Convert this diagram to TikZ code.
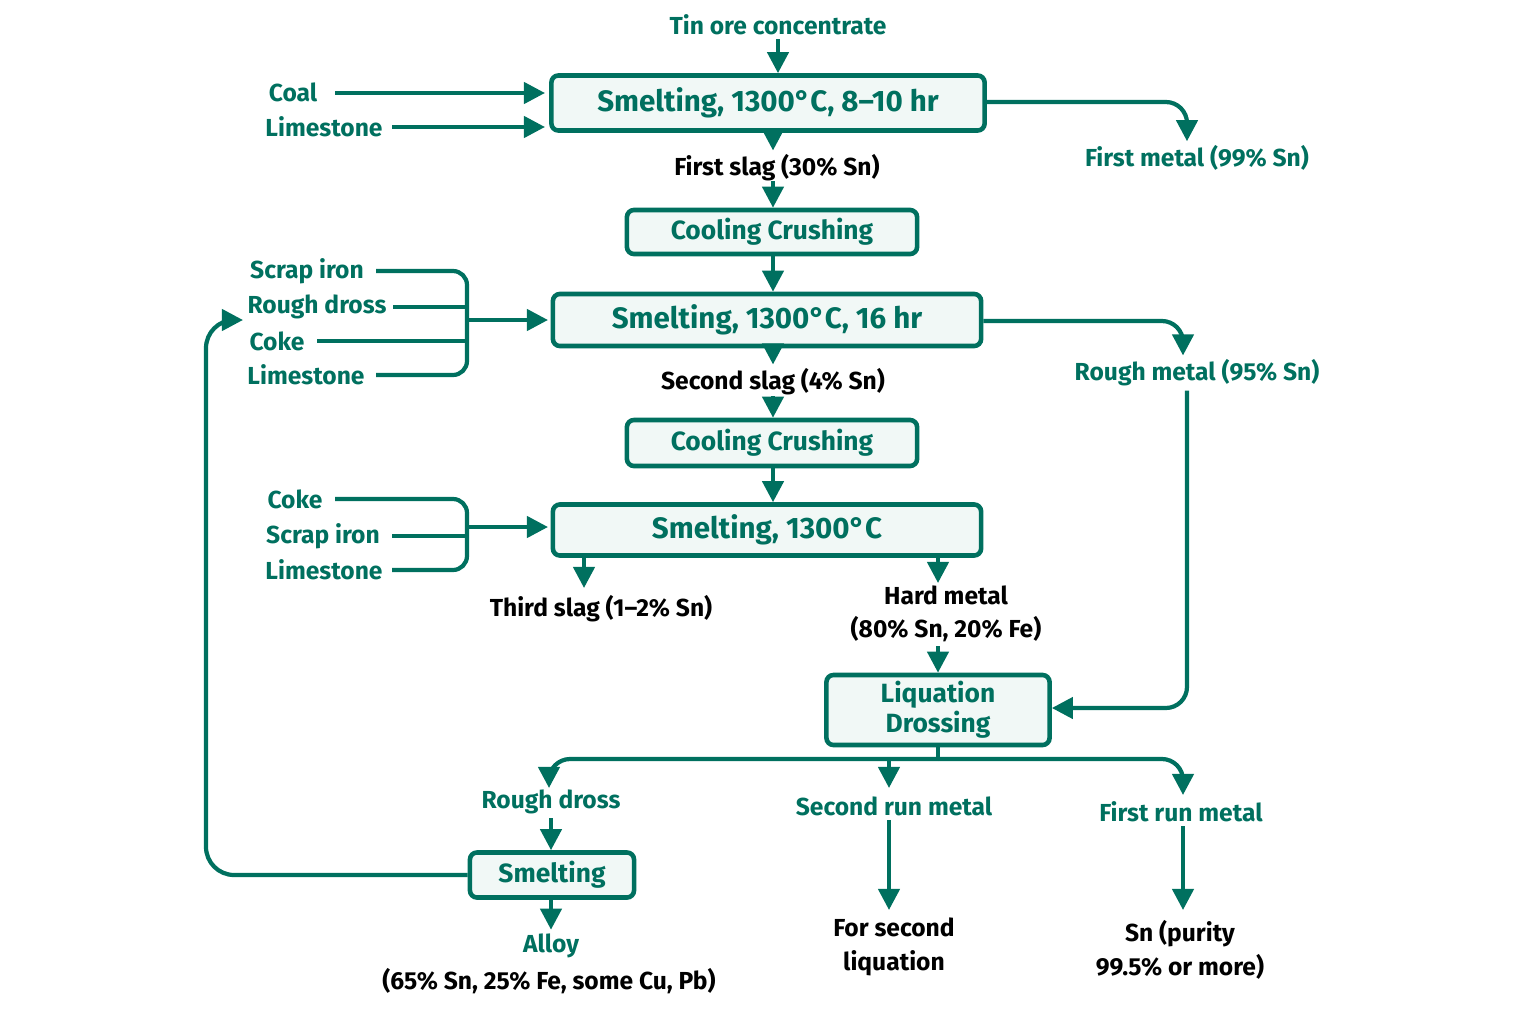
\documentclass[tikz,border=0pt]{standalone}
\usepackage{fontspec}
\setmainfont{Fira Sans}
\usetikzlibrary{arrows.meta}
\definecolor{teal}{HTML}{00705F}
\definecolor{boxfill}{HTML}{F1F8F6}
\begin{document}
\begin{tikzpicture}[x=0.01cm,y=-0.01cm,
  proc/.style={draw=teal,line width=1.3pt,fill=boxfill,rounded corners=2pt,inner sep=0pt,font=\fontsize{7.5}{9.5}\selectfont\bfseries\color{teal}},
  lab/.style={font=\fontsize{7}{8.5}\selectfont\bfseries\color{teal},inner sep=1pt},
  blab/.style={font=\fontsize{7}{9.5}\selectfont\bfseries,inner sep=1pt,align=center},
  ar/.style={draw=teal,line width=1.2pt,-{Triangle[length=6pt,width=6pt]}},
  ln/.style={draw=teal,line width=1.2pt,rounded corners=4pt}]
\useasboundingbox (0,0) rectangle (1536,1024);
% boxes
\node[proc,minimum width=4.33cm,minimum height=0.55cm] (s1) at (768,103) {\fontsize{8.4}{10}\selectfont Smelting, 1300°C, 8–10 hr};
\node[proc,minimum width=2.90cm,minimum height=0.44cm] (c1) at (772,232) {Cooling Crushing};
\node[proc,minimum width=4.28cm,minimum height=0.52cm] (s2) at (767,320) {\fontsize{8.4}{10}\selectfont Smelting, 1300°C, 16 hr};
\node[proc,minimum width=2.90cm,minimum height=0.46cm] (c2) at (772,443) {Cooling Crushing};
\node[proc,minimum width=4.28cm,minimum height=0.51cm] (s3) at (767,530) {\fontsize{8.4}{10}\selectfont Smelting, 1300°C};
\node[proc,minimum width=2.23cm,minimum height=0.70cm,align=center] (lq) at (938,710) {Liquation\\[-1pt]Drossing};
\node[proc,minimum width=1.64cm,minimum height=0.45cm] (sm) at (552,875) {Smelting};
% labels
\node[lab] (tin) at (778,25) {Tin ore concentrate};
\node[lab] (coal) at (293,92) {Coal};
\node[lab] (lime1) at (324,127) {Limestone};
\node[lab] (fm) at (1197,158) {First metal (99\% Sn)};
\node[blab] (fs) at (777,168) {First slag (30\% Sn)};
\node[lab] (si1) at (307,271) {Scrap iron};
\node[lab] (rd1) at (317,307) {Rough dross};
\node[lab] (ck1) at (277,341) {Coke};
\node[lab] (lime2) at (306,375) {Limestone};
\node[lab] (rm) at (1197,373) {Rough metal (95\% Sn)};
\node[blab] (ss) at (773,382) {Second slag (4\% Sn)};
\node[lab] (ck2) at (295,499) {Coke};
\node[lab] (si2) at (323,536) {Scrap iron};
\node[lab] (lime3) at (324,570) {Limestone};
\node[blab] (ts) at (601,609) {Third slag (1–2\% Sn)};
\node[blab] (hm) at (946,614) {Hard metal\\(80\% Sn, 20\% Fe)};
\node[lab] (rd2) at (551,802) {Rough dross};
\node[lab] (srm) at (894,806) {Second run metal};
\node[lab] (frm) at (1181,812) {First run metal};
\node[lab] (alloy) at (551,946) {Alloy};
\node[blab] (alc) at (549,981) {(65\% Sn, 25\% Fe, some Cu, Pb)};
\node[blab] (fsl) at (894,947) {For second\\liquation};
\node[blab] (sn) at (1180,950) {Sn (purity\\99.5\% or more)};
% top section
\draw[ar] (tin.south) -- (s1.north -| tin.south);
\draw[ar] (335,93) -- (545,93);
\draw[ar] (392,127) -- (545,127);
\draw[ar,rounded corners=6pt] (s1.east |- 0,102) -- (1187,102) -- (fm.north -| 1187,0);
\draw[ar] (773,131) -- (fs.north -| 773,0);
\draw[ar] (773,181) -- (c1.north -| 773,0);
\draw[ar] (c1.south -| 773,0) -- (s2.north -| 773,0);
% inputs 2
\draw[ln] (376,271) -- (467,271) -- (467,375) -- (376,375);
\draw[ln] (393,307) -- (467,307);
\draw[ln] (317,341) -- (467,341);
\draw[ar] (467,320) -- (548,320);
\draw[ar,rounded corners=6pt] (s2.east |- 0,321) -- (1183,321) -- (rm.north -| 1183,0);
\draw[ar] (773,346) -- (ss.north -| 773,0);
\draw[ar] (773,396) -- (c2.north -| 773,0);
\draw[ar] (c2.south -| 773,0) -- (s3.north -| 773,0);
% inputs 3
\draw[ln] (335,499) -- (467,499) -- (467,570) -- (392,570);
\draw[ln] (392,536) -- (467,536);
\draw[ar] (467,527) -- (548,527);
\draw[ar] (s3.south -| 584,0) -- (584,588);
\draw[ar] (s3.south -| 938,0) -- (938,583);
\draw[ar] (hm.south -| 938,0) -- (lq.north -| 938,0);
\draw[ar,rounded corners=6pt] (rm.south -| 1187,0) -- (1187,708) -- (lq.east |- 0,708);
% distribution
\draw[ln] (lq.south) -- (938,759);
\draw[ar,rounded corners=6pt] (938,759) -- (549,759) -- (549,788);
\draw[ar,rounded corners=6pt] (938,759) -- (1183,759) -- (1183,795);
\draw[ar] (889,759) -- (889,788);
\draw[ar] (rd2.south -| 551,0) -- (sm.north -| 551,0);
\draw[ar] (sm.south -| 551,0) -- (alloy.north -| 551,0);
\draw[ar] (srm.south -| 889,0) -- (889,910);
\draw[ar] (frm.south -| 1183,0) -- (1183,910);
\draw[ar,rounded corners=8pt] (sm.west) -- (206,875) -- (206,320) -- (243,320);
\end{tikzpicture}
\end{document}
